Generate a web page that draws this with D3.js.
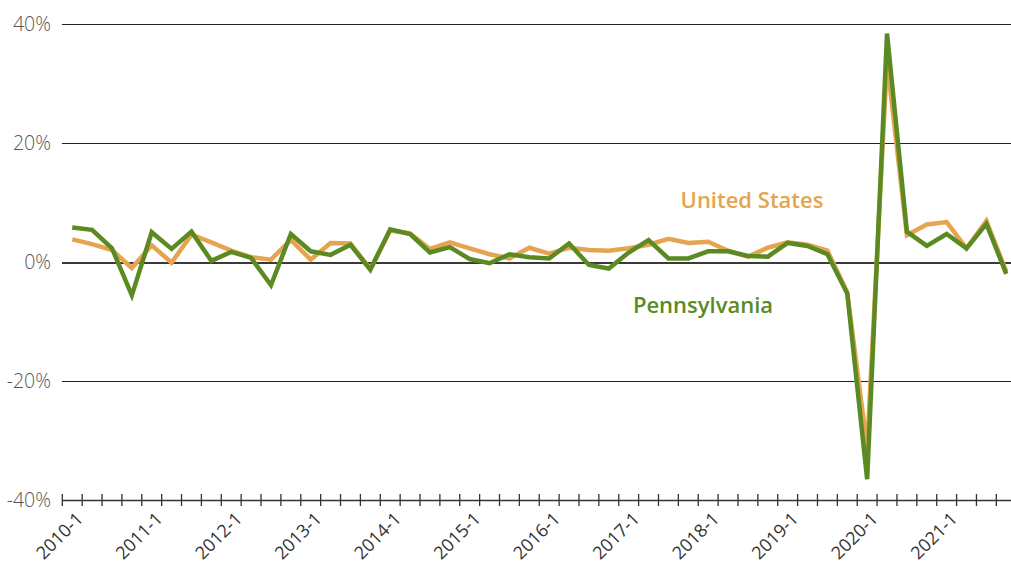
<!DOCTYPE html>
<html>
<head>
<meta charset="utf-8">
<script src="https://cdn.jsdelivr.net/npm/d3@7"></script>
<style>
  body { margin: 0; background: #fff; }
  #chart-container { width: 1011px; height: 566px; overflow: hidden; }
</style>
</head>
<body>
<div id="chart-container"></div>
<script>
// quarterly labels shown on the axis (one every 4 quarters)
var years = ["2010", "2011", "2012", "2013", "2014", "2015", "2016", "2017", "2018", "2019", "2020", "2021"];
var quarters = [];
years.forEach(function (y) {
    for (var q = 1; q <= 4; q++) quarters.push(y + "-" + q);
});

// annualised growth, %
var usValues = [3.8, 3.0, 2.0, -1.0, 2.8, -0.1, 4.6, 3.3, 1.9, 0.8, 0.4, 3.7,
    0.4, 3.2, 3.1, -1.2, 5.3, 4.8, 2.2, 3.3, 2.3, 1.3, 0.6, 2.4,
    1.4, 2.4, 2.0, 1.9, 2.3, 2.9, 3.9, 3.2, 3.4, 1.9, 0.9, 2.4,
    3.3, 2.9, 1.9, -5.1, -31.2, 33.8, 4.5, 6.3, 6.7, 2.3, 6.9, -1.6];
var paValues = [5.8, 5.4, 2.3, -5.6, 5.0, 2.2, 5.1, 0.2, 1.7, 0.7, -3.9, 4.7,
    1.8, 1.2, 2.9, -1.3, 5.5, 4.7, 1.6, 2.5, 0.5, -0.2, 1.3, 0.8,
    0.6, 3.1, -0.5, -1.1, 1.6, 3.7, 0.6, 0.6, 1.8, 1.8, 1.0, 0.9,
    3.2, 2.7, 1.3, -5.3, -36.5, 38.4, 5.1, 2.7, 4.7, 2.3, 6.4, -2.0];

var yTicks = [-40, -20, 0, 20, 40];

var seriesNames = ["United States", "Pennsylvania"];
var seriesColors = ["#e5a450", "#5b8a23"];

var width = 1011, height = 566;

function drawChart() {
    var svg = d3.select("#chart-container")
        .append("svg")
        .attr("width", width)
        .attr("height", height);

    var x = d3.scaleBand()
        .domain(quarters)
        .range([62.3, 1016.2]);

    var y = d3.scaleLinear()
        .domain([-40, 40])
        .range([500, 24]);

    // horizontal grid lines
    svg.selectAll("line.grid")
        .data(yTicks.filter(function (d) { return d != -40; }))
        .enter()
        .append("line")
        .attr("class", "grid")
        .attr("x1", 62)
        .attr("x2", width)
        .attr("y1", function (d) { return y(d) + 0.5; })
        .attr("y2", function (d) { return y(d) + 0.5; })
        .attr("stroke", function (d) { return d == 0 ? "#3a3a3a" : "#222"; })
        .attr("stroke-width", function (d) { return d == 0 ? 2 : 1; })
        .attr("shape-rendering", "crispEdges");

    // y labels
    svg.selectAll("text.ylab")
        .data(yTicks)
        .enter()
        .append("text")
        .attr("class", "ylab")
        .attr("x", 51)
        .attr("y", function (d) { return y(d); })
        .attr("dy", "0.35em")
        .attr("text-anchor", "end")
        .attr("font-family", "'Open Sans', sans-serif")
        .attr("font-weight", 300)
        .attr("font-size", 19.5)
        .attr("fill", "#555")
        .text(function (d) { return d + "%"; });

    // x axis at the bottom, ticks crossing the line
    var xAxis = d3.axisBottom(x)
        .tickValues([])
        .tickSizeOuter(0);
    svg.append("g")
        .attr("class", "x-axis")
        .attr("transform", "translate(0," + y(-40) + ")")
        .call(xAxis)
        .select(".domain")
        .attr("stroke", "#333")
        .attr("stroke-width", 1.3);

    var tickPos = quarters.map(function (q) { return x(q); });
    tickPos.push(x.range()[1]);
    svg.selectAll("line.xtick")
        .data(tickPos)
        .enter()
        .append("line")
        .attr("class", "xtick")
        .attr("x1", function (d) { return d; })
        .attr("x2", function (d) { return d; })
        .attr("y1", y(-40) - 6)
        .attr("y2", y(-40) + 6)
        .attr("stroke", "#333")
        .attr("stroke-width", 1.3);

    svg.selectAll("text.xlab")
        .data(quarters.filter(function (q) { return q.slice(-2) == "-1"; }))
        .enter()
        .append("text")
        .attr("class", "xlab")
        .attr("transform", function (d) {
            return "translate(" + (x(d) + x.bandwidth() / 2 + 12) + "," + 520 + ") rotate(-45)";
        })
        .attr("text-anchor", "end")
        .attr("font-family", "'Open Sans', sans-serif")
        .attr("font-size", 18)
        .attr("fill", "#333")
        .text(function (d) { return d; });

    // lines
    var line = d3.line()
        .x(function (d, i) { return x(quarters[i]) + x.bandwidth() / 2; })
        .y(function (d) { return y(d); });

    [usValues, paValues].forEach(function (vals, k) {
        svg.append("path")
            .datum(vals)
            .attr("fill", "none")
            .attr("stroke", seriesColors[k])
            .attr("stroke-width", 4.5)
            .attr("stroke-linejoin", "miter")
            .attr("d", line);
    });

    // direct labels
    svg.append("text")
        .attr("x", 752)
        .attr("y", 208)
        .attr("text-anchor", "middle")
        .attr("font-family", "'Open Sans', sans-serif")
        .attr("font-weight", 600)
        .attr("font-size", 22)
        .attr("fill", seriesColors[0])
        .text(seriesNames[0]);

    svg.append("text")
        .attr("x", 703)
        .attr("y", 313)
        .attr("text-anchor", "middle")
        .attr("font-family", "'Open Sans', sans-serif")
        .attr("font-weight", 600)
        .attr("font-size", 22)
        .attr("fill", seriesColors[1])
        .text(seriesNames[1]);
}

drawChart();
</script>
</body>
</html>
